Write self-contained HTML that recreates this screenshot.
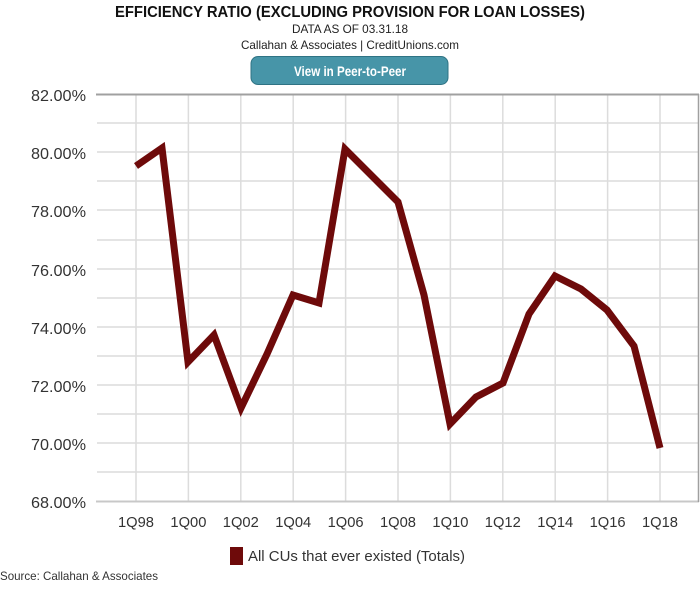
<!DOCTYPE html>
<html><head><style>
html,body{margin:0;padding:0;background:#fff;}
svg{display:block;font-family:"Liberation Sans",sans-serif;}
</style></head><body>
<svg width="700" height="590" viewBox="0 0 700 590">
<text x="350" y="17" text-anchor="middle" font-size="16" font-weight="bold" fill="#111" textLength="470" lengthAdjust="spacingAndGlyphs">EFFICIENCY RATIO (EXCLUDING PROVISION FOR LOAN LOSSES)</text>
<text x="350" y="33" text-anchor="middle" font-size="12" fill="#222" textLength="116" lengthAdjust="spacingAndGlyphs">DATA AS OF 03.31.18</text>
<text x="350" y="49" text-anchor="middle" font-size="12" fill="#222" textLength="218" lengthAdjust="spacingAndGlyphs">Callahan &amp; Associates | CreditUnions.com</text>
<rect x="251" y="56.5" width="197" height="28" rx="7" fill="#4795a8" stroke="#2f7384"/>
<text x="350" y="76" text-anchor="middle" font-size="14" font-weight="bold" fill="#fff" textLength="112" lengthAdjust="spacingAndGlyphs">View in Peer-to-Peer</text>
<g stroke="#dcdcdc" stroke-width="1.5">
<line x1="97" y1="123" x2="698" y2="123"/><line x1="97" y1="181" x2="698" y2="181"/><line x1="97" y1="240" x2="698" y2="240"/><line x1="97" y1="298" x2="698" y2="298"/><line x1="97" y1="356" x2="698" y2="356"/><line x1="97" y1="414" x2="698" y2="414"/><line x1="97" y1="472" x2="698" y2="472"/>
<line x1="97" y1="152" x2="698" y2="152"/><line x1="97" y1="210" x2="698" y2="210"/><line x1="97" y1="269" x2="698" y2="269"/><line x1="97" y1="327" x2="698" y2="327"/><line x1="97" y1="385" x2="698" y2="385"/><line x1="97" y1="443" x2="698" y2="443"/>
<line x1="136" y1="94" x2="136" y2="501"/><line x1="188.4" y1="94" x2="188.4" y2="501"/><line x1="240.8" y1="94" x2="240.8" y2="501"/><line x1="293.2" y1="94" x2="293.2" y2="501"/><line x1="345.6" y1="94" x2="345.6" y2="501"/><line x1="398" y1="94" x2="398" y2="501"/><line x1="450.4" y1="94" x2="450.4" y2="501"/><line x1="502.8" y1="94" x2="502.8" y2="501"/><line x1="555.2" y1="94" x2="555.2" y2="501"/><line x1="607.6" y1="94" x2="607.6" y2="501"/><line x1="660" y1="94" x2="660" y2="501"/>
</g>
<line x1="96" y1="94.5" x2="699" y2="94.5" stroke="#a0a0a0" stroke-width="2"/>
<line x1="96" y1="501.5" x2="699" y2="501.5" stroke="#c8c8c8" stroke-width="2"/>
<line x1="698.5" y1="94" x2="698.5" y2="502" stroke="#a0a0a0" stroke-width="1.5"/>
<g font-size="16" fill="#333" text-anchor="end">
<text x="86" y="101" textLength="55" lengthAdjust="spacingAndGlyphs">82.00%</text>
<text x="86" y="159" textLength="55" lengthAdjust="spacingAndGlyphs">80.00%</text>
<text x="86" y="217" textLength="55" lengthAdjust="spacingAndGlyphs">78.00%</text>
<text x="86" y="276" textLength="55" lengthAdjust="spacingAndGlyphs">76.00%</text>
<text x="86" y="334" textLength="55" lengthAdjust="spacingAndGlyphs">74.00%</text>
<text x="86" y="392" textLength="55" lengthAdjust="spacingAndGlyphs">72.00%</text>
<text x="86" y="450" textLength="55" lengthAdjust="spacingAndGlyphs">70.00%</text>
<text x="86" y="508" textLength="55" lengthAdjust="spacingAndGlyphs">68.00%</text>
</g>
<g font-size="15" fill="#333" text-anchor="middle">
<text x="136" y="527" textLength="36" lengthAdjust="spacingAndGlyphs">1Q98</text><text x="188.4" y="527" textLength="36" lengthAdjust="spacingAndGlyphs">1Q00</text><text x="240.8" y="527" textLength="36" lengthAdjust="spacingAndGlyphs">1Q02</text><text x="293.2" y="527" textLength="36" lengthAdjust="spacingAndGlyphs">1Q04</text><text x="345.6" y="527" textLength="36" lengthAdjust="spacingAndGlyphs">1Q06</text><text x="398" y="527" textLength="36" lengthAdjust="spacingAndGlyphs">1Q08</text><text x="450.4" y="527" textLength="36" lengthAdjust="spacingAndGlyphs">1Q10</text><text x="502.8" y="527" textLength="36" lengthAdjust="spacingAndGlyphs">1Q12</text><text x="555.2" y="527" textLength="36" lengthAdjust="spacingAndGlyphs">1Q14</text><text x="607.6" y="527" textLength="36" lengthAdjust="spacingAndGlyphs">1Q16</text><text x="660" y="527" textLength="36" lengthAdjust="spacingAndGlyphs">1Q18</text>
</g>
<polyline fill="none" stroke="#6e0a0a" stroke-width="7" stroke-linejoin="miter" points="136,166 162,148 188,362 214,335 241,408 267,354 293,295 319,303 345,149 372,176 398,202 424,295 450,424 476,397 503,383 529,314 555,276 581,289 607,310 634,346 660,448"/>
<rect x="230" y="547" width="13" height="18" fill="#6e0a0a"/>
<text x="248" y="561" font-size="15" fill="#333" textLength="217" lengthAdjust="spacingAndGlyphs">All CUs that ever existed (Totals)</text>
<text x="0" y="580" font-size="12" fill="#333" textLength="158" lengthAdjust="spacingAndGlyphs">Source: Callahan &amp; Associates</text>
</svg>
</body></html>
